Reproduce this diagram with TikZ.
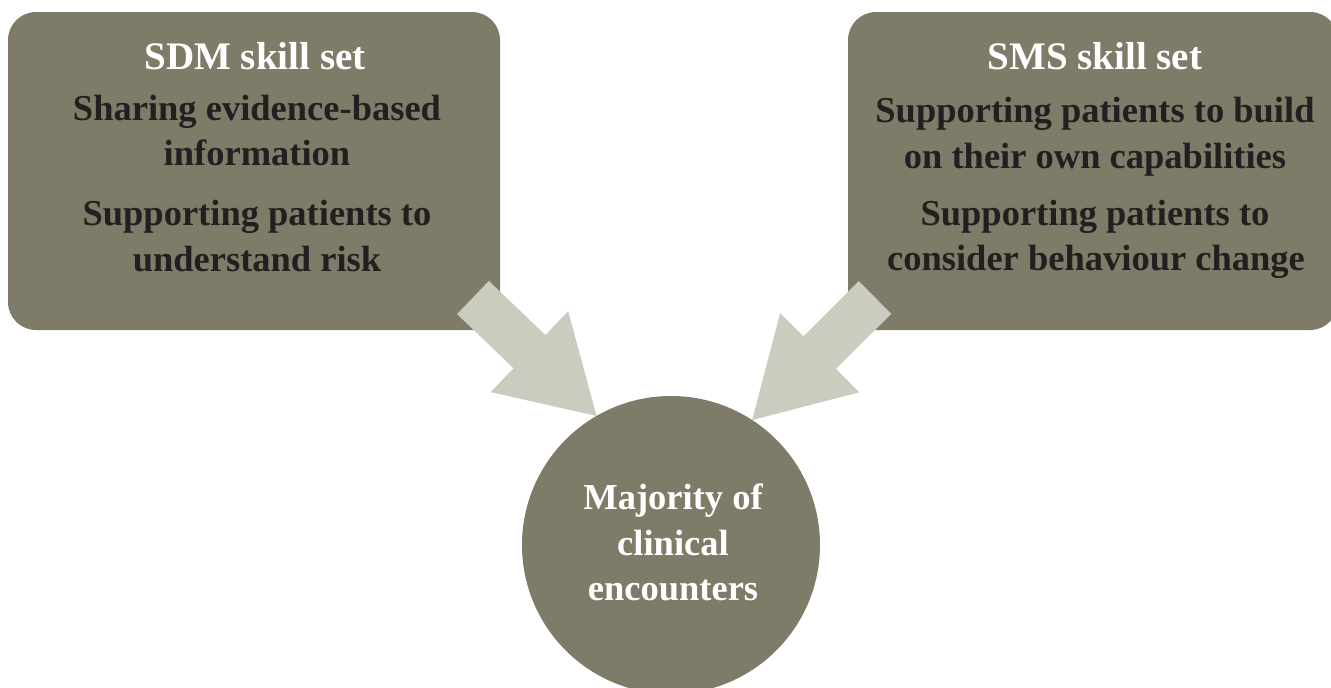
\documentclass[tikz,border=0pt]{standalone}
\usepackage{fontspec}
\setmainfont{Liberation Serif}
\usetikzlibrary{calc}
\definecolor{boxfill}{HTML}{7E7B69}
\definecolor{arrowfill}{HTML}{CBCCC0}
\definecolor{darktext}{HTML}{231F20}
\begin{document}
\begin{tikzpicture}[x=1pt,y=-1pt,
  skillbox/.style={fill=boxfill, draw=none, rounded corners=28pt, inner sep=0pt, outer sep=0pt, anchor=north west},
  headline/.style={anchor=base, text=white, font=\bfseries\fontsize{39}{46}\selectfont, inner sep=0pt},
  bodyline/.style={anchor=base, text=darktext, font=\bfseries\fontsize{36.5}{46}\selectfont, inner sep=0pt},
  circleline/.style={anchor=base, text=white, font=\bfseries\fontsize{36.5}{46}\selectfont, inner sep=0pt},
  encounter/.style={circle, fill=boxfill, draw=none, minimum size=298pt, inner sep=0pt, outer sep=0pt},
  blockarrow/.style={fill=arrowfill, draw=none}]
\useasboundingbox (0,0) rectangle (1331,688);
\clip (0,0) rectangle (1331,688);
\fill[white] (0,0) rectangle (1331,688);

% boxes
\node[skillbox, minimum width=492pt, minimum height=318pt] (sdm) at (8,12) {};
\node[skillbox, minimum width=490pt, minimum height=318pt] (sms) at (848,12) {};

% circle (placed first to name it, drawn later on top)
\path (671,545) coordinate (encC);
\node[circle, minimum size=298pt, inner sep=0pt, outer sep=0pt] (encShape) at (encC) {};

% arrows
\coordinate (sdmOut) at (473,297.5);
\coordinate (smsOut) at (875,297.5);
\coordinate (tipL) at (encShape.120.7);
\coordinate (tipR) at (encShape.57.5);
\coordinate (hbL) at ($(sdmOut)!0.457!(tipL)$);
\coordinate (hbR) at ($(smsOut)!0.45!(tipR)$);

\fill[blockarrow] ($(sdmOut)!23pt!90:(tipL)$) -- ($(hbL)!23pt!90:(tipL)$) -- ($(hbL)!56pt!90:(tipL)$) -- (tipL)
  -- ($(hbL)!56pt!-90:(tipL)$) -- ($(hbL)!23pt!-90:(tipL)$) -- ($(sdmOut)!23pt!-90:(tipL)$) -- cycle;
\fill[blockarrow] ($(smsOut)!23pt!90:(tipR)$) -- ($(hbR)!23pt!90:(tipR)$) -- ($(hbR)!56pt!90:(tipR)$) -- (tipR)
  -- ($(hbR)!56pt!-90:(tipR)$) -- ($(hbR)!23pt!-90:(tipR)$) -- ($(smsOut)!23pt!-90:(tipR)$) -- cycle;

\node[encounter] (enc) at (encC) {};

% left box text
\node[headline] (sdmH) at (255,69) {SDM skill set};
\node[bodyline] (sdm1) at (257,120) {Sharing evidence-based};
\node[bodyline] (sdm2) at (257,165) {information};
\node[bodyline] (sdm3) at (257,225) {Supporting patients to};
\node[bodyline] (sdm4) at (257,271) {understand risk};

% right box text
\node[headline] (smsH) at (1095,69) {SMS skill set};
\node[bodyline] (sms1) at (1095,122) {Supporting patients to build};
\node[bodyline] (sms2) at (1095,168) {on their own capabilities};
\node[bodyline] (sms3) at (1095,225) {Supporting patients to};
\node[bodyline] (sms4) at (1096,270) {consider behaviour change};

% circle text
\node[circleline] (enc1) at (673,509) {Majority of};
\node[circleline] (enc2) at (673,555) {clinical};
\node[circleline] (enc3) at (673,600) {encounters};
\end{tikzpicture}
\end{document}
